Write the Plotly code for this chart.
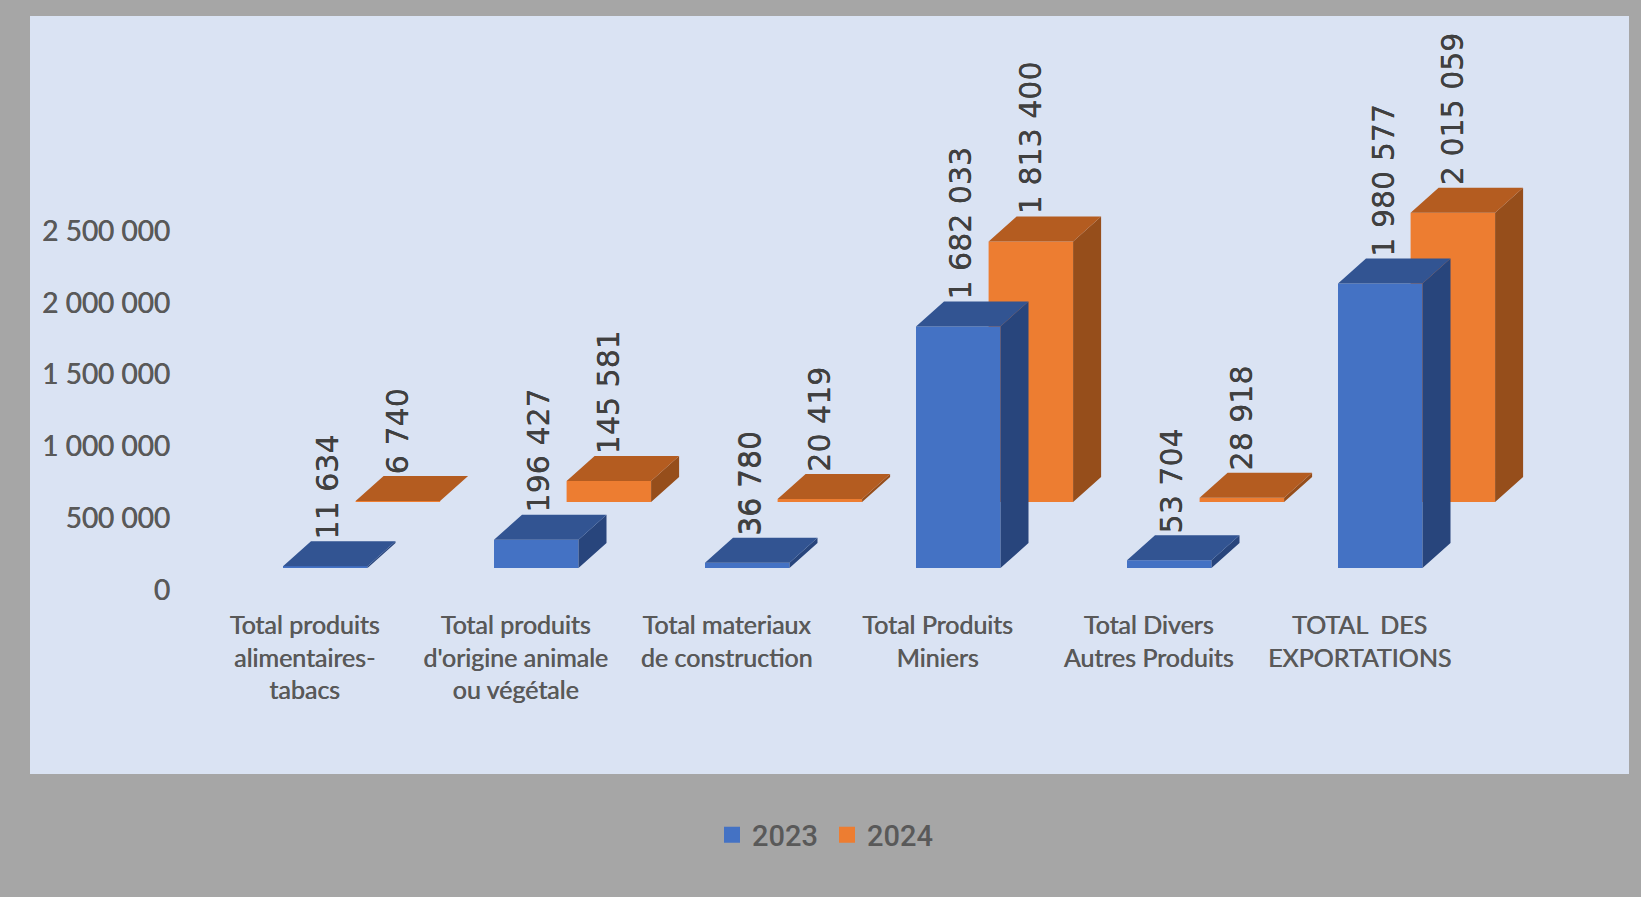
import plotly.graph_objects as go

categories = ["Total produits<br>alimentaires-<br>tabacs",
              "Total produits<br>d'origine animale<br>ou végétale",
              "Total materiaux<br>de construction",
              "Total Produits<br>Miniers",
              "Total Divers<br>Autres Produits",
              "TOTAL  DES<br>EXPORTATIONS"]
values_2023 = [11634, 196427, 36780, 1682033, 53704, 1980577]
values_2024 = [6740, 145581, 20419, 1813400, 28918, 2015059]
tick_values = [0, 500000, 1000000, 1500000, 2000000, 2500000]
tick_labels = ["0", "500 000", "1 000 000", "1 500 000", "2 000 000", "2 500 000"]

W, H = 1641, 897
PX_X = 211.0            # pixels per category
PX_Y = 71.8 / 500000    # pixels per value unit
X0, Y0 = 304.6, 590.0   # pixel of category 0 and of value 0
L, R, T, B = 30, 1629, 16, 774
px = lambda p: p / PX_X
pv = lambda p: p / PX_Y
bar_w = px(84.5)
depth_x, depth_y = px(28), pv(25)
HEAVY = "0.5px 0 0 #595959"


def fmt(v):
    return f"{v:,}".replace(",", " ")


series = [
    dict(name="2024", vals=values_2024, off=px(51), base=pv(88), front="#ed7d31", top="#b45c20", side="#964e1b", lab=px(92.5)),
    dict(name="2023", vals=values_2023, off=px(-21.6), base=pv(22), front="#4472c4", top="#325492", side="#28457c", lab=px(23)),
]

fig = go.Figure()
annotations = []
for s in series:
    xs = list(range(len(categories)))
    fig.add_bar(x=xs, y=s["vals"], base=s["base"], width=bar_w, offset=s["off"],
                marker=dict(color=s["front"], line=dict(width=0)), showlegend=False, name=s["name"])
    tx, ty, sx, sy = [], [], [], []
    for i, v in zip(xs, s["vals"]):
        x1, x2 = i + s["off"], i + s["off"] + bar_w
        y1, y2 = s["base"], s["base"] + v
        tx += [x1, x2, x2 + depth_x, x1 + depth_x, x1, None]
        ty += [y2, y2, y2 + depth_y, y2 + depth_y, y2, None]
        sx += [x2, x2 + depth_x, x2 + depth_x, x2, x2, None]
        sy += [y1, y1 + depth_y, y2 + depth_y, y2, y1, None]
        annotations.append(dict(x=i + s["lab"], y=y2 + depth_y, text=fmt(v), textangle=-90,
                                xref="x", yref="y", showarrow=False, yanchor="bottom", xanchor="center",
                                yshift=1,
                                font=dict(family="DejaVu Sans", size=30, color="#404040",
                                          shadow="0 0.4px 0 #404040"), borderpad=0))
    fig.add_scatter(x=sx, y=sy, mode="lines", fill="toself", fillcolor=s["side"], line=dict(width=0),
                    showlegend=False, hoverinfo="skip")
    fig.add_scatter(x=tx, y=ty, mode="lines", fill="toself", fillcolor=s["top"], line=dict(width=0),
                    showlegend=False, hoverinfo="skip")

for s in reversed(series):
    fig.add_scatter(x=[None], y=[None], mode="markers", name=s["name"],
                    marker=dict(symbol="square", size=18, color=s["front"]))

fig.update_layout(
    width=W, height=H, autosize=False,
    margin=dict(l=0, r=0, t=0, b=0), paper_bgcolor="#a6a6a6", plot_bgcolor="#dae3f3",
    barmode="overlay", annotations=annotations,
    showlegend=True,
    legend=dict(orientation="h", x=712 / W, xanchor="left", y=1 - 835 / H, yanchor="middle",
                bgcolor="rgba(0,0,0,0)", itemsizing="trace", itemclick=False,
                entrywidth=70, traceorder="normal",
                font=dict(family="Roboto", size=29, color="#595959", weight=500)),
    xaxis=dict(domain=[L / W, R / W], range=[(L - X0) / PX_X, (R - X0) / PX_X],
               tickmode="array", tickvals=list(range(len(categories))), ticktext=categories,
               showgrid=False, zeroline=False, showline=False, ticks="", tickangle=0,
               anchor="free", position=1 - 608 / H,
               tickfont=dict(family="Lato", size=25, color="#595959", shadow=HEAVY)),
    yaxis=dict(domain=[1 - B / H, 1 - T / H], range=[(Y0 - B) / PX_Y, (Y0 - T) / PX_Y],
               tickmode="array", tickvals=tick_values, ticktext=tick_labels,
               showgrid=False, zeroline=False, showline=False, ticks="",
               anchor="free", position=170 / W,
               tickfont=dict(family="Lato", size=28, color="#595959", shadow=HEAVY)),
)
fig.write_html("out.html", config=dict(displayModeBar=False),
               post_script="document.body.style.margin='0';document.body.style.background='#a6a6a6';")
